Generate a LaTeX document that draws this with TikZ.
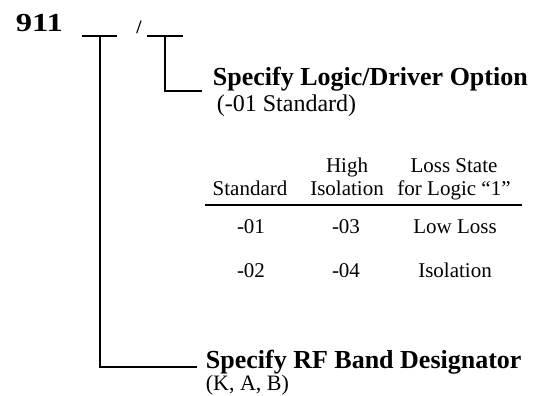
\documentclass[tikz,border=0pt]{standalone}
\usepackage{fontspec}
\setmainfont{Liberation Serif}
\begin{document}
\begin{tikzpicture}[x=1pt, y=-1pt, line width=1.8pt,
    head/.style={font=\fontsize{26}{30}\selectfont\bfseries, anchor=base west, inner sep=0pt},
    note/.style={font=\fontsize{22}{26}\selectfont, anchor=base west, inner sep=0pt},
    cell/.style={font=\fontsize{21}{25}\selectfont, anchor=base, inner sep=0pt}]
  \useasboundingbox (0,0) rectangle (552,396);

  \node[head] (part) at (15,32) {\scalebox{1.25}[1]{911}};
  \node[font=\fontsize{19}{22}\selectfont\bfseries, anchor=base, inner sep=0pt] (slash) at (139,34) {/};

  \coordinate (bandleft) at (82,36);
  \coordinate (bandtap) at (100,36);
  \coordinate (bandright) at (117,36);
  \coordinate (bandcorner) at (100,367);
  \coordinate (bandend) at (197,367);
  \coordinate (logicleft) at (147,36);
  \coordinate (logictap) at (165,36);
  \coordinate (logicright) at (183,36);
  \coordinate (logiccorner) at (165,91);
  \coordinate (logicend) at (202,91);

  \draw (bandleft) -- (bandright);
  \draw (logicleft) -- (logicright);
  \draw (bandtap) -- (bandcorner) -- (bandend);
  \draw (logictap) -- (logiccorner) -- (logicend);

  \node[head] (logic) at (212,86) {Specify Logic/Driver Option};
  \node[note, font=\fontsize{24}{28}\selectfont] (logicdef) at (216,111) {(-01 Standard)};

  \node[cell] (colstd) at (250,195) {Standard};
  \node[cell] (colhigh) at (347,172) {High};
  \node[cell] (coliso) at (347,195) {Isolation};
  \node[cell] (colloss) at (454,172) {Loss State};
  \node[cell] (collogic) at (454,195) {for Logic “1”};
  \coordinate (ruleleft) at (205,205);
  \coordinate (ruleright) at (522,205);
  \draw[line width=2pt] (ruleleft) -- (ruleright);
  \foreach \std/\high/\loss [count=\i] in {-01/-03/Low Loss, -02/-04/Isolation} {
    \node[cell] (std\i) at (251,189+44*\i) {\std};
    \node[cell] (high\i) at (346,189+44*\i) {\high};
    \node[cell] (loss\i) at (455,189+44*\i) {\loss};
  }

  \node[head] (band) at (205,368) {Specify RF Band Designator};
  \node[note] (banddef) at (205,390) {(K, A, B)};
\end{tikzpicture}
\end{document}
